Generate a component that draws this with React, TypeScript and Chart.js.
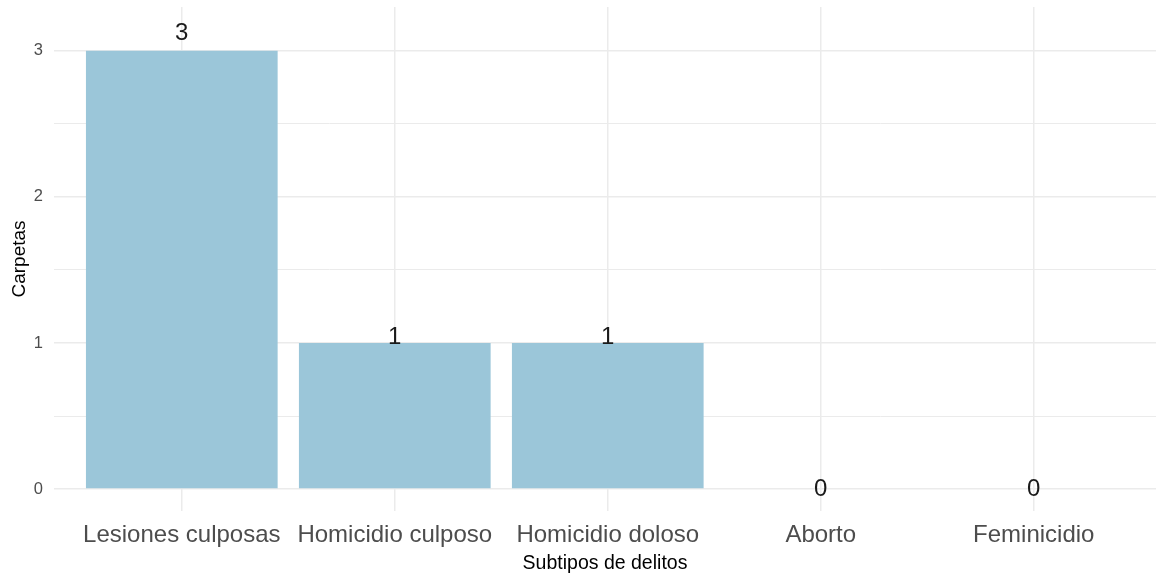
import React, { useEffect, useRef } from "react";
import { Chart, registerables } from "chart.js";

Chart.register(...registerables);

const categories = ["Lesiones culposas", "Homicidio culposo", "Homicidio doloso", "Aborto", "Feminicidio"];
const carpetas = [3, 1, 1, 0, 0];
const yTickValues = [0, 0.5, 1, 1.5, 2, 2.5, 3];

const FONT = "'Liberation Sans', Arial, sans-serif";

const valueLabels = {
  id: "valueLabels",
  afterDatasetsDraw(chart: any) {
    const { ctx, scales } = chart;
    ctx.save();
    ctx.font = `24px ${FONT}`;
    ctx.fillStyle = "#1a1a1a";
    ctx.textAlign = "center";
    ctx.textBaseline = "middle";
    carpetas.forEach((v, i) => {
      const x = scales.x.getPixelForValue(i + 1);
      const y = scales.y.getPixelForValue(v * 1.04);
      ctx.fillText(String(v), x, y);
    });
    ctx.restore();
  },
};

export default function App() {
  const ref = useRef<HTMLCanvasElement>(null);
  useEffect(() => {
    if (!ref.current) return;
    const chart = new Chart(ref.current, {
      type: "bar",
      data: {
        datasets: [
          {
            data: carpetas.map((v, i) => ({ x: i + 1, y: v })),
            backgroundColor: "#9BC6D9",
            borderWidth: 0,
            barPercentage: 0.9,
            categoryPercentage: 1,
          },
        ],
      },
      options: {
        animation: false,
        responsive: false,
        maintainAspectRatio: false,
        layout: { padding: { top: 7, right: 0, left: 0, bottom: 0 } },
        plugins: { legend: { display: false }, tooltip: { enabled: false } },
        scales: {
          x: {
            type: "linear",
            offset: false,
            min: 0.4,
            max: 5.574,
            afterBuildTicks: (s: any) => {
              s.ticks = categories.map((_, i) => ({ value: i + 1 }));
            },
            afterFit: (s: any) => {
              s.height = 64;
              s.paddingLeft = 0;
              s.paddingRight = 0;
            },
            ticks: {
              autoSkip: false,
              maxRotation: 0,
              padding: 10,
              color: "#4D4D4D",
              font: { family: FONT, size: 24 },
              callback: (v: any) => categories[Number(v) - 1] ?? "",
            },
            grid: { color: "#EBEBEB", lineWidth: 1.5, drawTicks: false, offset: false },
            border: { display: false },
            title: {
              display: true,
              text: "Subtipos de delitos",
              color: "#000",
              font: { family: FONT, size: 19.5 },
              padding: { top: 0, bottom: 0 },
            },
          },
          y: {
            type: "linear",
            min: -0.15,
            max: 3.3,
            afterBuildTicks: (s: any) => {
              s.ticks = yTickValues.map((v) => ({ value: v }));
            },
            afterFit: (s: any) => {
              s.width = 54;
              s.paddingTop = 0;
              s.paddingBottom = 0;
            },
            ticks: {
              padding: 11,
              color: "#4D4D4D",
              font: { family: FONT, size: 16.5 },
              callback: (v: any) => (Number.isInteger(Number(v)) ? String(v) : ""),
            },
            grid: {
              color: "#EBEBEB",
              lineWidth: (c: any) => (Number.isInteger(c.tick?.value) ? 1.5 : 1),
              drawTicks: false,
            },
            border: { display: false },
            title: {
              display: true,
              text: "Carpetas",
              color: "#000",
              font: { family: FONT, size: 19 },
              padding: { top: 8, bottom: 0 },
            },
          },
        },
      },
      plugins: [valueLabels],
    } as any);
    return () => chart.destroy();
  }, []);
  return (
    <div style={{ position: "fixed", left: 0, top: 0, width: 1156, height: 575, background: "#fff" }}>
      <canvas ref={ref} width={1156} height={575} style={{ width: 1156, height: 575 }} />
    </div>
  );
}
